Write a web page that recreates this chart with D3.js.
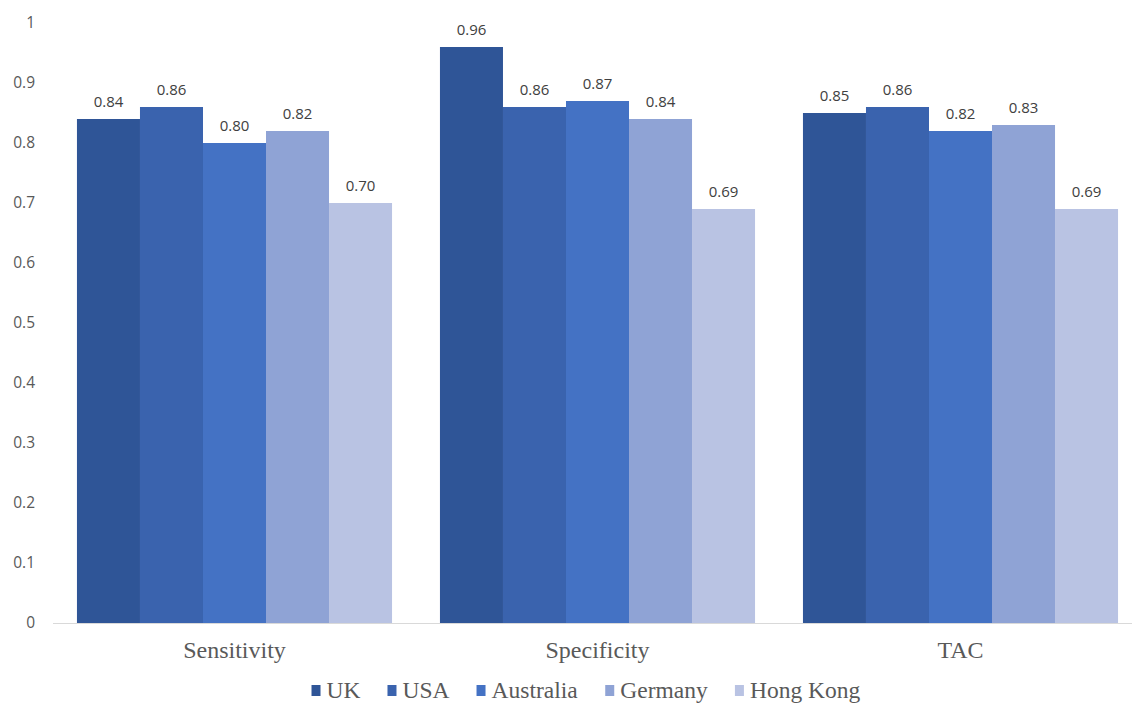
<!DOCTYPE html>
<html>
<head>
<meta charset="utf-8">
<script src="https://cdn.jsdelivr.net/npm/d3@7"></script>
<style>
  html, body { margin: 0; padding: 0; background: #fff; }
  svg { display: block; }
</style>
</head>
<body>
<svg id="chart" width="1132" height="705"></svg>
<script>
// Diagnostic accuracy measures by country
const categories = ["Sensitivity", "Specificity", "TAC"];
const series = ["UK", "USA", "Australia", "Germany", "Hong Kong"];
const ukValues        = [0.84, 0.96, 0.85];
const usaValues       = [0.86, 0.86, 0.86];
const australiaValues = [0.80, 0.87, 0.82];
const germanyValues   = [0.82, 0.84, 0.83];
const hongKongValues  = [0.70, 0.69, 0.69];
const yTicks = [0, 0.1, 0.2, 0.3, 0.4, 0.5, 0.6, 0.7, 0.8, 0.9, 1];
const colors = ["#2f5597", "#3a63ae", "#4472c4", "#8fa3d5", "#b9c3e3"];

const valuesBySeries = [ukValues, usaValues, australiaValues, germanyValues, hongKongValues];

const svg = d3.select("#chart");
const x0 = 53, x1 = 1142, yTop = 23, yBottom = 623;

const x = d3.scaleBand().domain(categories).range([x0, x1])
  .paddingInner(0.132).paddingOuter(0.066);
const xs = d3.scaleBand().domain(series).range([0, x.bandwidth()]).padding(0);
const y = d3.scaleLinear().domain([0, 1]).range([yBottom, yTop]);
const color = d3.scaleOrdinal().domain(series).range(colors);

// y tick labels (no axis line, no gridlines)
const yAxis = d3.axisLeft(y).tickValues(yTicks).tickSize(0).tickPadding(0)
  .tickFormat(d => d === 0 ? "0" : d === 1 ? "1" : d3.format(".1f")(d));
const gy = svg.append("g").attr("transform", "translate(35,0)").call(yAxis);
gy.select(".domain").remove();
gy.selectAll("text")
  .attr("font-family", "'Open Sans', 'Noto Sans', sans-serif")
  .attr("font-size", 15.5).attr("fill", "#595959");

// bars
const rows = categories.map((c, i) => ({
  category: c,
  items: series.map((s, j) => ({ series: s, value: valuesBySeries[j][i] }))
}));

const groups = svg.append("g").selectAll("g").data(rows).join("g")
  .attr("transform", d => `translate(${x(d.category)},0)`);

groups.selectAll("rect").data(d => d.items).join("rect")
  .attr("x", d => xs(d.series))
  .attr("width", xs.bandwidth())
  .attr("y", d => y(d.value))
  .attr("height", d => y(0) - y(d.value))
  .attr("fill", d => color(d.series));

groups.selectAll("text").data(d => d.items).join("text")
  .attr("x", d => xs(d.series) + xs.bandwidth() / 2)
  .attr("y", d => y(d.value) - 12)
  .attr("text-anchor", "middle")
  .attr("font-family", "'Open Sans', 'Noto Sans', sans-serif")
  .attr("font-size", 15)
  .attr("fill", "#404040")
  .text(d => d3.format(".2f")(d.value));

// baseline
svg.append("line")
  .attr("x1", x0).attr("x2", x1)
  .attr("y1", y(0) + 0.5).attr("y2", y(0) + 0.5)
  .attr("stroke", "#d9d9d9").attr("stroke-width", 1);

// category labels
const xAxis = d3.axisBottom(x).tickSize(0).tickPadding(0);
const gx = svg.append("g").attr("transform", `translate(0,${y(0)})`).call(xAxis);
gx.select(".domain").remove();
gx.selectAll("text")
  .attr("font-family", "'Liberation Serif', 'Times New Roman', serif")
  .attr("font-size", 24).attr("fill", "#595959")
  .attr("dy", null).attr("y", 35);

// legend
const legend = svg.append("g");
const items = legend.selectAll("g").data(series).join("g");
items.append("rect").attr("width", 9).attr("height", 11)
  .attr("y", -13).attr("fill", d => color(d));
items.append("text").attr("x", 15).attr("y", 0)
  .attr("font-family", "'Liberation Serif', 'Times New Roman', serif")
  .attr("font-size", 23.5).attr("fill", "#595959")
  .text(d => d);
const gap = 27;
let cx = 0;
items.each(function () {
  const w = this.getBBox().width;
  d3.select(this).attr("transform", `translate(${cx},0)`);
  cx += w + gap;
});
const totalW = cx - gap;
legend.attr("transform", `translate(${586 - totalW / 2},${698})`);
</script>
</body>
</html>
